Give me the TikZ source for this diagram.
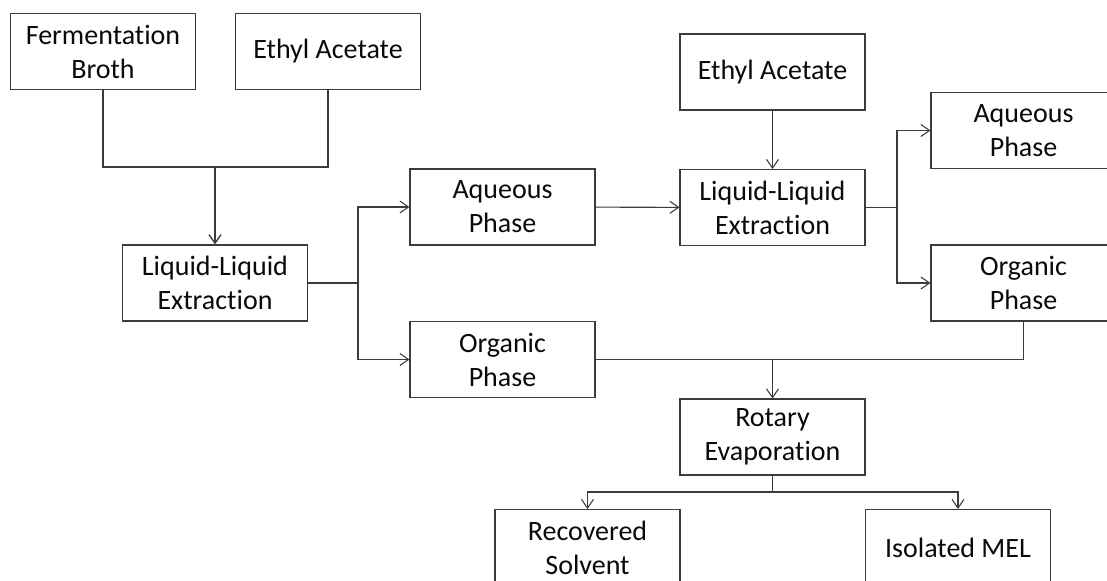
\documentclass[tikz,border=0pt]{standalone}
\usepackage{fontspec}
\setmainfont{Carlito}[Ligatures=NoCommon]
\usepackage{tikz}
\usetikzlibrary{arrows.meta,positioning,calc}
\definecolor{boxline}{RGB}{60,60,60}
\definecolor{txtgray}{RGB}{10,10,10}
\tikzset{
  procbox/.style={draw=boxline, line width=0.8pt, fill=white, minimum width=138.75pt, minimum height=57pt, inner sep=2pt, align=center, text=txtgray, font=\fontsize{21}{25.5}\selectfont},
  link/.style={boxline, line width=0.8pt},
  arr/.style={-{Straight Barb[length=6.5pt,width=9pt]}, boxline, line width=0.8pt},
}

\begin{document}
\begin{tikzpicture}[x=0.75pt, y=-0.75pt]
  \useasboundingbox (0,0) rectangle (1107,581);
  \clip (0,0) rectangle (1107,581);
  % first extraction
  \node[procbox] (fb) at (103,51.5) {Fermentation\\Broth};
  \node[procbox] (ea) at (328,51.5) {Ethyl Acetate};
  \node[procbox] (lle) at (215,283) {Liquid-Liquid\\Extraction};
  \node[procbox] (aq) at (502.5,207) {Aqueous\\Phase};
  \node[procbox] (org) at (502.5,359.5) {Organic\\Phase};
  % second extraction
  \node[procbox] (eaB) at (772.5,72) {Ethyl Acetate};
  \node[procbox] (lleB) at (772.5,207.5) {Liquid-Liquid\\Extraction};
  \node[procbox] (aqB) at (1023.5,130.5) {Aqueous\\Phase};
  \node[procbox] (orgB) at (1023.5,283) {Organic\\Phase};
  % evaporation
  \node[procbox] (rot) at (772.5,437) {Rotary\\Evaporation};
  \node[procbox] (solv) at (587.5,547.5) {Recovered\\Solvent};
  \node[procbox] (mel) at (958,547.5) {Isolated MEL};

  \coordinate (j1) at (215,167);
  \coordinate (s1) at (358,283);
  \coordinate (s2) at (897,207.5);
  \coordinate (s3) at (772.5,492);
  \coordinate (j2) at (rot.north |- org.east);

  \draw[link] (fb) |- (j1) -| (ea);
  \draw[arr, line width=1pt] (j1) -- (lle);
  \draw[link] (lle) -- (s1);
  \draw[arr] (s1) |- (aq);
  \draw[arr] (s1) |- (org);
  \draw[arr] (aq) -- (lleB);
  \draw[arr] (eaB) -- (lleB);
  \draw[link] (lleB) -- (s2);
  \draw[arr] (s2) |- (aqB);
  \draw[arr] (s2) |- (orgB);
  \draw[link] (org) -| (orgB);
  \draw[arr] (j2) -- (rot);
  \draw[link] (rot) -- (s3);
  \draw[arr] (s3) -| (solv);
  \draw[arr] (s3) -| (mel);
\end{tikzpicture}
\end{document}
